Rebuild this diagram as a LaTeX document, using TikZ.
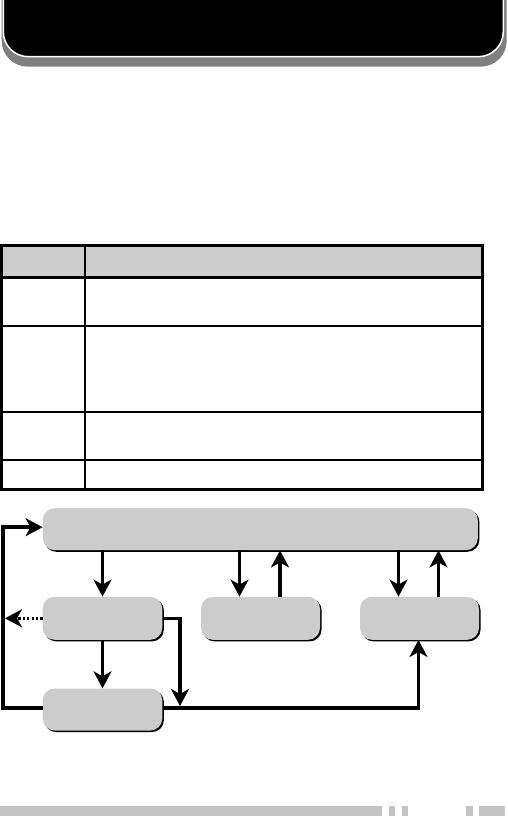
\documentclass[tikz,border=0pt]{standalone}
\usetikzlibrary{arrows.meta,shadows}
\definecolor{boxgrey}{HTML}{CCCCCC}
\definecolor{bargrey}{HTML}{C4C4C4}
\definecolor{bannergrey}{HTML}{808080}
\begin{document}
\begin{tikzpicture}[x=1pt,y=-1pt,
    stage/.style={rectangle,rounded corners=12pt,fill=boxgrey,minimum height=42pt,
      general shadow={fill=black,shadow xshift=1.6pt,shadow yshift=-1.6pt},inner sep=0pt},
    arr/.style={line width=3.5pt,-{Stealth[length=17pt,width=18pt,inset=5pt]}}]
    \useasboundingbox (0,0) rectangle (507,816);
    % banner
    \fill [bannergrey,rounded corners=26pt] (1.7,-30) rectangle (506.7,66.7);
    \draw [fill=black,draw=white,line width=1.5pt,rounded corners=25pt] (3.3,-30) rectangle (503.3,56.7);
    % table
    \fill [boxgrey] (1,245) rectangle (482,277.7);
    \foreach \y in {325.7,412.3,460}
        \draw [line width=2pt] (1,\y) -- (482,\y);
    \draw [line width=3pt] (1,277.7) -- (482,277.7);
    \draw [line width=2pt] (85,245) -- (85,489);
    \draw [line width=3pt] (1,245) rectangle (482,489);
    % flow
    \node [stage,minimum width=435pt] (top) at (260.3,529.2) {};
    \node [stage,minimum width=119.6pt,minimum height=43pt] (a) at (102.5,618.3) {};
    \node [stage,minimum width=119pt,minimum height=43pt] (b) at (260.5,618.3) {};
    \node [stage,minimum width=119pt,minimum height=43pt] (c) at (419.5,618.3) {};
    \node [stage,minimum width=119.6pt] (d) at (102.5,709.5) {};
    \coordinate (j) at (180,707);
    \coordinate (lp) at (3,708);
    \coordinate (dl) at (5,618.3);
    \draw [arr] (a.north |- top.south) -- (a.north);
    \draw [arr] (a.south) -- (d.north);
    \draw [arr] ([xshift=-21pt]b.north |- top.south) -- ([xshift=-21pt]b.north);
    \draw [arr] ([xshift=19.5pt]b.north) -- ([xshift=19.5pt]b.north |- top.south);
    \draw [arr] ([xshift=-21pt]c.north |- top.south) -- ([xshift=-21pt]c.north);
    \draw [arr] ([xshift=19pt]c.north) -- ([xshift=19pt]c.north |- top.south);
    \draw [arr,shorten >=1pt] (a.east) -| (j);
    \draw [arr] ([yshift=1.5pt]d.east) -| ([xshift=-1pt]c.south);
    \draw [arr] ([yshift=1.5pt]d.west) -- (lp) |- ([yshift=2pt]top.west);
    \draw [arr,dash pattern=on 2.2pt off 2.2pt] (a.west) -- (dl);
    % footer bar
    \foreach \xa/\xb in {0/382.3,389.3/395,402.3/407.7,465.7/472.7,479/505}
        \fill [bargrey] (\xa,805.7) rectangle (\xb,816);
\end{tikzpicture}
\end{document}
